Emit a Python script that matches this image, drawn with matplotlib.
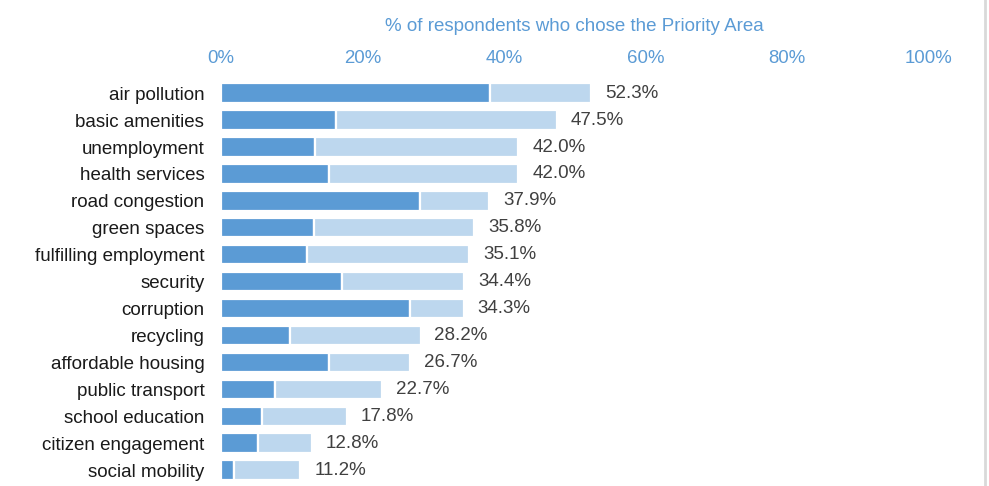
import matplotlib.pyplot as plt
from matplotlib.lines import Line2D

categories = [
    "air pollution", "basic amenities", "unemployment", "health services",
    "road congestion", "green spaces", "fulfilling employment", "security",
    "corruption", "recycling", "affordable housing", "public transport",
    "school education", "citizen engagement", "social mobility",
]
totals = [52.3, 47.5, 42.0, 42.0, 37.9, 35.8, 35.1, 34.4, 34.3, 28.2, 26.7, 22.7, 17.8, 12.8, 11.2]
first_choice = [38.0, 16.3, 13.3, 15.3, 28.1, 13.2, 12.1, 17.1, 26.7, 9.7, 15.3, 7.6, 5.8, 5.2, 1.9]
rest = [t - f for t, f in zip(totals, first_choice)]

plt.rcParams["font.family"] = ["Liberation Sans", "DejaVu Sans"]

dark = "#5B9BD5"
light = "#BDD7EE"
blue_text = "#5B9BD5"

fig = plt.figure(figsize=(9.89, 4.86), dpi=100)
ax = fig.add_axes([0.2235, 0.005, 0.7155, 0.831])

y = range(len(categories))
ax.barh(y, first_choice, height=0.72, color=dark, edgecolor="white", linewidth=1.6)
ax.barh(y, rest, left=first_choice, height=0.72, color=light, edgecolor="white", linewidth=1.6)

for i, t in enumerate(totals):
    ax.annotate(f"{t:.1f}%", (t, i), xytext=(10, 0), textcoords="offset points",
                va="center", ha="left", fontsize=13.5, color="#404040")

ax.set_xlim(0, 100)
ax.set_ylim(len(categories) - 0.5, -0.5)
ax.set_yticks(list(y))
ax.set_yticklabels(categories, fontsize=13.5, color="#1a1a1a")
ax.set_xticks([0, 20, 40, 60, 80, 100])
ax.set_xticklabels(["0%", "20%", "40%", "60%", "80%", "100%"], fontsize=13.4, color=blue_text)
ax.xaxis.tick_top()
ax.xaxis.set_label_position("top")
ax.set_xlabel("% of respondents who chose the Priority Area", fontsize=13.5,
              color=blue_text, labelpad=14)
ax.tick_params(axis="both", length=0)
ax.tick_params(axis="x", pad=9)
ax.tick_params(axis="y", pad=12)
for s in ax.spines.values():
    s.set_visible(False)

fig.add_artist(Line2D([0.9955, 0.9955], [0, 1], color="#d9d9d9", linewidth=2))

fig.savefig("out.png", dpi=100)
